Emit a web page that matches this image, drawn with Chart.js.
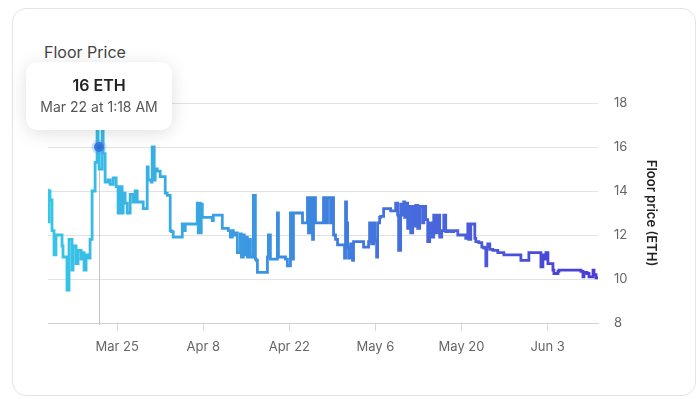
<!DOCTYPE html>
<html>
<head>
<meta charset="utf-8">
<script src="https://cdn.jsdelivr.net/npm/chart.js@4"></script>
<style>
  html, body { margin: 0; padding: 0; background: #fff; }
  body { width: 697px; height: 399px; position: relative; overflow: hidden; font-family: Inter, "Noto Sans", sans-serif; }
  #card { position: absolute; left: 12px; top: 8px; width: 684px; height: 388px; box-sizing: border-box; border: 1px solid #e4e4e4; border-radius: 14px; }
  #title { position: absolute; left: 44px; top: 42px; font-size: 16px; color: #444; line-height: 20px; }
  #wrap { position: absolute; left: 0; top: 0; width: 697px; height: 399px; }
</style>
</head>
<body>
<div id="card"></div>
<div id="title">Floor Price</div>
<div id="wrap"><canvas id="c" width="697" height="399"></canvas></div>
<script>
// Day numbers: days counted from Mar 1 = 1 (Mar 25 = 25, Apr 8 = 39, ...)
const days = [
  13.76,13.92,14.09,14.41,14.74,15.06,15.39,16.04,16.20,16.85,
  17.18,17.67,17.83,18.32,18.65,19.14,19.46,19.62,19.95,20.28,
  20.60,20.93,21.25,21.42,21.74,21.90,22.06,22.56,22.72,23.05,
  23.53,23.86,24.35,24.84,25.16,25.49,25.81,25.98,26.30,26.63,
  27.12,27.61,27.93,28.26,28.75,29.24,29.56,29.89,30.05,30.54,
  30.70,31.03,31.19,31.52,32.00,32.82,33.15,33.63,33.80,34.12,
  34.45,35.59,35.75,36.08,36.40,38.03,38.19,38.36,38.52,38.68,
  38.85,39.01,40.48,40.64,40.96,42.10,42.27,43.08,43.41,43.73,
  43.90,44.22,44.55,45.04,45.20,45.53,45.69,46.01,46.18,46.50,
  46.67,46.99,47.15,47.48,47.64,47.81,48.29,49.44,49.60,49.92,
  50.25,51.06,51.23,51.39,52.37,52.69,53.18,53.51,53.67,54.00,
  55.14,55.30,55.95,56.11,56.44,56.77,56.93,57.25,57.58,58.56,
  58.88,59.21,59.70,60.02,60.19,60.51,60.84,61.33,61.98,62.14,
  62.30,62.47,62.63,62.96,63.28,63.44,63.61,65.07,65.40,65.89,
  66.05,66.38,66.70,66.87,67.19,67.35,67.68,67.84,68.33,68.66,
  69.47,69.63,70.29,70.61,70.77,71.10,71.26,71.59,71.75,71.92,
  72.24,72.40,72.73,73.06,73.22,73.54,73.87,74.20,74.68,74.85,
  75.17,75.50,75.82,76.15,76.48,76.80,77.13,77.45,77.78,78.11,
  78.43,78.76,79.25,79.73,80.39,80.55,81.69,82.02,82.18,82.50,
  82.83,83.16,83.32,83.81,84.30,84.62,84.95,85.11,85.27,85.60,
  86.09,86.90,87.88,89.02,89.83,90.65,90.97,91.95,92.28,93.91,
  94.23,94.40,94.72,95.05,95.54,95.86,96.02,96.68,96.84,97.16,
  98.79,100.42,100.75,100.91,101.40,101.73,102.38,102.54,102.87,103.19
];
const prices = [
  14.1,12.6,14.0,13.6,12.2,11.1,12.0,12.0,11.5,11.0,
  9.5,11.8,10.4,11.5,10.7,11.3,10.9,11.2,10.4,11.1,
  10.95,11.8,14.0,14.0,15.3,16.8,16.0,15.0,16.8,15.7,
  14.4,14.5,14.3,14.6,14.2,13.0,14.2,13.0,13.9,13.45,
  13.0,13.85,13.5,14.0,13.5,13.5,13.2,13.2,15.1,14.5,
  14.4,16.0,14.5,15.0,14.9,14.65,13.9,13.8,12.2,12.15,
  11.9,11.9,12.5,12.2,12.5,12.5,13.45,12.1,13.45,12.1,
  13.4,12.8,12.8,12.65,12.9,12.9,12.3,12.3,12.2,11.9,
  12.2,12.0,12.1,11.2,12.05,11.0,12.0,11.1,11.9,11.0,
  11.8,11.0,11.0,13.8,10.9,10.85,10.3,10.3,11.0,12.0,
  10.9,10.9,13.0,11.0,11.0,10.9,10.6,13.0,10.9,13.0,
  13.0,12.55,12.55,13.7,12.1,13.7,11.8,13.7,12.55,12.55,
  13.7,12.55,13.7,12.55,13.7,12.0,11.8,11.55,11.55,10.95,
  13.5,12.55,11.45,10.95,11.6,10.85,11.7,11.7,11.45,11.45,
  11.7,12.55,11.6,12.55,11.75,11.0,12.55,12.8,12.85,13.2,
  13.2,13.1,13.1,13.45,12.9,11.3,13.4,12.9,13.5,12.8,
  13.45,12.3,13.3,12.1,13.3,12.4,13.35,12.3,13.3,12.55,
  13.3,12.7,11.7,12.55,11.9,12.9,12.1,12.9,11.9,12.2,
  12.9,12.15,12.2,12.15,12.2,12.0,12.0,11.85,12.5,11.8,
  12.5,12.5,11.85,11.7,11.65,11.45,11.4,10.6,11.45,11.6,
  11.35,11.3,11.2,11.1,11.1,11.1,10.85,10.85,11.2,11.2,
  10.55,11.1,10.9,11.2,10.7,10.7,10.4,10.25,10.35,10.4,
  10.4,10.4,10.35,10.1,10.3,10.25,10.1,10.4,10.2,10.05
];
const tickDays = [25, 39, 53, 67, 81, 95];
const tickLabels = ['Mar 25', 'Apr 8', 'Apr 22', 'May 6', 'May 20', 'Jun 3'];
const yTicks = [8, 10, 12, 14, 16, 18];
const hoverDay = 22.06;
const hoverLabel = 'Mar 22 at 1:18 AM';
const seriesLabel = 'Floor price (ETH)';

const points = days.map((d, i) => ({ x: d, y: prices[i] }));
const hoverIndex = days.indexOf(hoverDay);

function lineGradient(context) {
  const chart = context.chart;
  const area = chart.chartArea;
  if (!area) return '#3aa0e2';
  const g = chart.ctx.createLinearGradient(area.left, 0, area.right, 0);
  g.addColorStop(0, '#36c6e6');
  g.addColorStop(0.3, '#3aa2e2');
  g.addColorStop(0.5, '#3d82df');
  g.addColorStop(0.72, '#4a63dc');
  g.addColorStop(1, '#4b3ad4');
  return g;
}

const guidePlugin = {
  id: 'guide',
  beforeDatasetsDraw(chart) {
    const act = chart.getActiveElements();
    if (!act.length) return;
    const el = act[0].element;
    const ctx = chart.ctx;
    ctx.save();
    ctx.strokeStyle = '#c4c4c4';
    ctx.lineWidth = 1;
    ctx.beginPath();
    ctx.moveTo(Math.round(el.x) + 0.5, el.y);
    ctx.lineTo(Math.round(el.x) + 0.5, chart.chartArea.bottom + 2);
    ctx.stroke();
    ctx.restore();
  },
  beforeTooltipDraw(chart, args) {
    const tt = args.tooltip;
    if (!tt || tt.opacity === 0) return;
    const ctx = chart.ctx;
    ctx.save();
    ctx.shadowColor = 'rgba(0,0,0,0.13)';
    ctx.shadowBlur = 18;
    ctx.shadowOffsetY = 3;
    ctx.fillStyle = '#fff';
    ctx.beginPath();
    ctx.roundRect(tt.x, tt.y, tt.width, tt.height, 12);
    ctx.fill();
    ctx.restore();
  }
};

const chart = new Chart(document.getElementById('c'), {
  type: 'line',
  data: {
    datasets: [{
      label: seriesLabel,
      data: points,
      borderColor: lineGradient,
      borderWidth: 2.8,
      stepped: 'after',
      pointRadius: 0,
      pointHoverRadius: 5,
      pointHoverBackgroundColor: '#2f6fdc',
      pointHoverBorderColor: 'rgba(80,150,230,0.28)',
      pointHoverBorderWidth: 5,
      fill: false
    }]
  },
  options: {
    responsive: false,
    animation: false,
    events: [],
    layout: { padding: { left: 48, top: 103, right: 34, bottom: 36 } },
    plugins: {
      legend: { display: false },
      tooltip: {
        enabled: true,
        backgroundColor: '#ffffff',
        titleColor: '#222',
        bodyColor: '#555',
        titleFont: { family: 'Inter', size: 16, weight: '600' },
        bodyFont: { family: 'Inter', size: 14 },
        titleAlign: 'center',
        bodyAlign: 'center',
        titleMarginBottom: 3,
        padding: { top: 15, bottom: 14, left: 14, right: 14 },
        cornerRadius: 12,
        caretSize: 0,
        caretPadding: 17,
        displayColors: false,
        xAlign: 'center',
        yAlign: 'bottom',
        callbacks: {
          title: (items) => items[0].parsed.y + ' ETH',
          label: () => hoverLabel
        }
      }
    },
    scales: {
      x: {
        type: 'linear',
        position: 'bottom',
        min: days[0],
        max: days[days.length - 1],
        afterBuildTicks: (scale) => { scale.ticks = tickDays.map(v => ({ value: v })); },
        afterFit: (scale) => { scale.height = 40; },
        grid: { drawOnChartArea: false, drawTicks: true, tickLength: 8, color: '#d6d6d6' },
        border: { display: true, color: '#d0d0d0' },
        ticks: {
          autoSkip: false,
          maxRotation: 0,
          padding: 8,
          color: '#666',
          font: { family: 'Inter', size: 13 },
          callback: (v, i) => tickLabels[i]
        }
      },
      y: {
        position: 'right',
        min: yTicks[0],
        max: yTicks[yTicks.length - 1],
        afterBuildTicks: (scale) => { scale.ticks = yTicks.map(v => ({ value: v })); },
        afterFit: (scale) => { scale.width = 65; },
        grid: { color: '#e2e2e2', drawTicks: false },
        border: { display: false },
        ticks: {
          padding: 16,
          color: '#666',
          font: { family: 'Inter', size: 13 }
        },
        title: {
          display: true,
          text: seriesLabel,
          color: '#222',
          font: { family: 'Inter', size: 13, weight: '600' }
        }
      }
    }
  },
  plugins: [guidePlugin]
});

const active = [{ datasetIndex: 0, index: hoverIndex }];
chart.setActiveElements(active);
const el = chart.getDatasetMeta(0).data[hoverIndex];
chart.tooltip.setActiveElements(active, { x: el.x, y: el.y });
chart.update();
</script>
</body>
</html>
